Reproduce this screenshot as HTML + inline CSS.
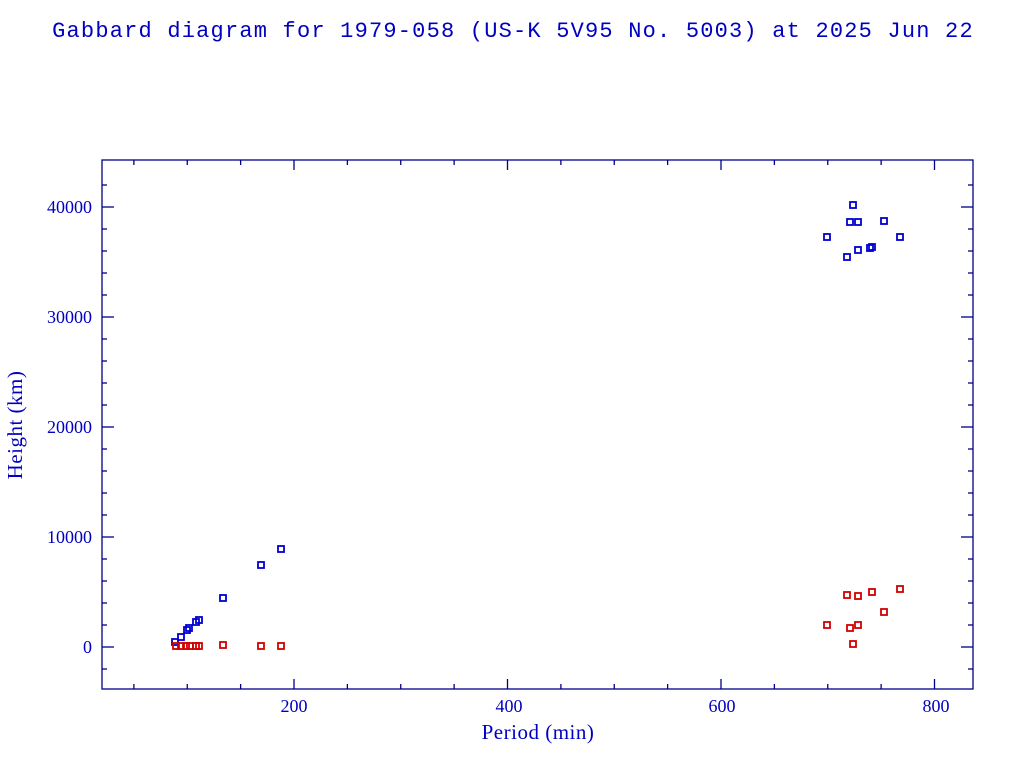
<!DOCTYPE html>
<html><head><meta charset="utf-8"><style>
body{margin:0;background:#fff}
svg text{font-family:"Liberation Serif",serif;fill:#0000c0}
</style></head><body>
<svg width="1024" height="768" xmlns="http://www.w3.org/2000/svg">
<text x="513" y="37" font-size="22" text-anchor="middle" style="font-family:'Liberation Mono',monospace" letter-spacing="1.2">Gabbard diagram for 1979-058 (US-K 5V95 No. 5003) at 2025 Jun 22</text>
<rect x="102" y="160" width="871" height="529" fill="none" stroke="#00008b" stroke-width="1.3"/>
<g id="t" stroke="#00008b" stroke-width="1.3"></g>
<g font-size="18">
<text x="294" y="712" text-anchor="middle">200</text>
<text x="509" y="712" text-anchor="middle">400</text>
<text x="722" y="712" text-anchor="middle">600</text>
<text x="936" y="712" text-anchor="middle">800</text>
<text x="92" y="653" text-anchor="end">0</text>
<text x="92" y="543" text-anchor="end">10000</text>
<text x="92" y="433" text-anchor="end">20000</text>
<text x="92" y="323" text-anchor="end">30000</text>
<text x="92" y="213" text-anchor="end">40000</text>
</g>
<text x="538" y="739" font-size="21" text-anchor="middle" letter-spacing="0.5">Period (min)</text>
<text transform="translate(22,425) rotate(-90)" font-size="21" text-anchor="middle" letter-spacing="0.5">Height (km)</text>
<g id="p"></g>
</svg>
<script>
var ns="http://www.w3.org/2000/svg",t=document.getElementById('t'),p=document.getElementById('p');
function L(a,b,c,d){var l=document.createElementNS(ns,'line');l.setAttribute('x1',a);l.setAttribute('y1',b);l.setAttribute('x2',c);l.setAttribute('y2',d);t.appendChild(l);}
for(var m=50;m<=800;m+=50){var x=80.5+m*1.0675;var len=(m%200==0)?10:5;L(x,689,x,689-len);L(x,160,x,160+len);}
for(var h=-2000;h<=42000;h+=2000){var y=647-h*0.011;var len=(h%10000==0)?12:5;L(102,y,102+len,y);L(973,y,973-len,y);}
function P(x,y,c){var r=document.createElementNS(ns,'rect');r.setAttribute('x',x-3);r.setAttribute('y',y-3);r.setAttribute('width',6);r.setAttribute('height',6);r.setAttribute('fill','none');r.setAttribute('stroke',c);r.setAttribute('stroke-width','1.8');p.appendChild(r);}
var B=[[175,642],[181,637],[187,630],[189,628],[196,622],[199,620],[223,598],[261,565],[281,549],[853,205],[850,222],[858,222],[884,221],[827,237],[900,237],[872,247],[870,248],[858,250],[847,257]];
var R=[[176,646],[181,646],[186,646],[190,646],[196,646],[199,646],[223,645],[261,646],[281,646],[827,625],[847,595],[858,596],[872,592],[900,589],[850,628],[858,625],[884,612],[853,644]];
B.forEach(function(q){P(q[0],q[1],'#0000d0')});R.forEach(function(q){P(q[0],q[1],'#d00000')});
</script>
</body></html>
